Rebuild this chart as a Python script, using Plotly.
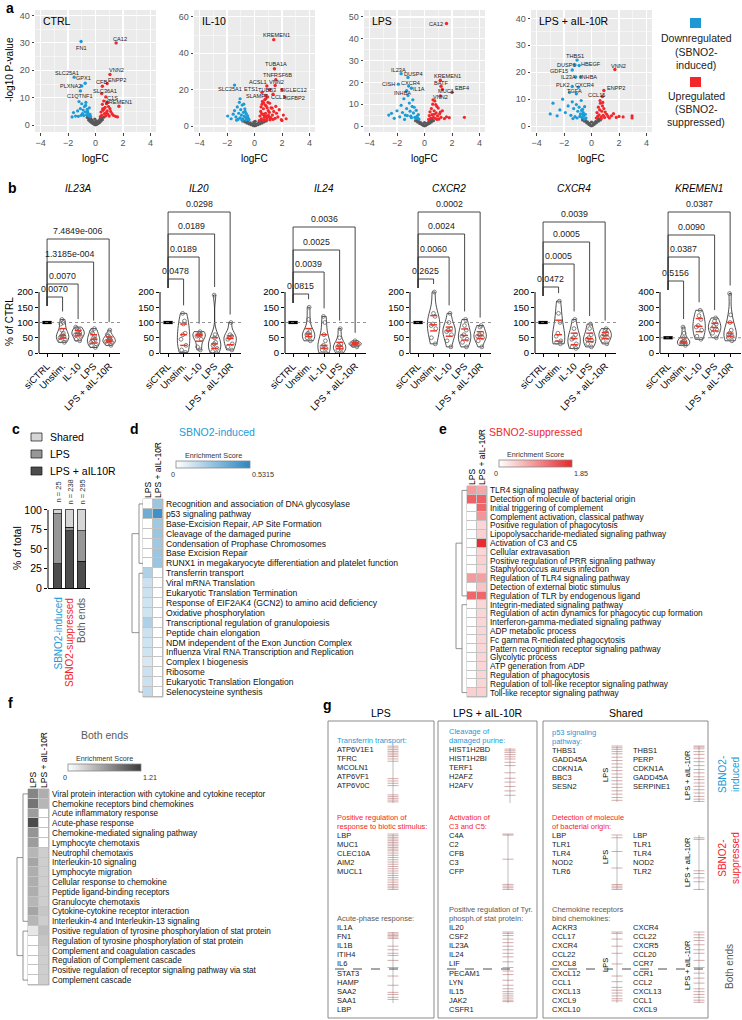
import plotly.graph_objects as go
import numpy as np

W, H = 742, 1020
FONT = "Liberation Sans, Arial, sans-serif"
BLUE = "#1b9bd7"
RED = "#f2262b"
GREY_T = "#5a5a5a"

# ======================= DATA =======================
# ---- panel a : volcano plots (logFC, -log10 P) ----
volcano_titles = ["CTRL", "IL-10", "LPS", "LPS + aIL-10R"]

ctrl_ns_x = [0.0, -0.1, 0.1, -0.2, 0.2, -0.3, 0.3, -0.4, 0.4, -0.5, 0.5, 0.0, -0.15, 0.15, -0.25, 0.25, 0.05, -0.05, 0.35, -0.35, 0.45, -0.45, 0.6, -0.6]
ctrl_ns_y = [0.1, 0.3, 0.3, 0.6, 0.6, 1.0, 1.0, 1.4, 1.5, 1.9, 2.0, 0.8, 1.2, 1.1, 1.8, 1.7, 1.6, 2.2, 2.4, 2.3, 2.6, 2.7, 2.9, 2.8]
ctrl_dn_x = [-1.7, -1.6, -1.45, -1.3, -1.2, -1.1, -1.0, -0.95, -0.9, -0.85, -0.8, -0.75, -0.7, -0.65, -0.6, -0.55, -0.5, -0.45, -0.4, -0.35, -1.05, -0.72, -0.58, -1.25]
ctrl_dn_y = [3.0, 4.6, 3.3, 5.2, 8.6, 6.0, 7.8, 4.2, 5.5, 3.5, 6.8, 4.8, 8.3, 3.8, 5.8, 4.4, 3.4, 6.3, 3.9, 3.1, 3.6, 7.2, 5.0, 3.2]
ctrl_up_x = [0.35, 0.4, 0.45, 0.5, 0.55, 0.6, 0.65, 0.7, 0.75, 0.8, 0.85, 0.9, 0.95, 1.0, 1.1, 1.2, 1.3, 1.45, 1.6, 0.62, 0.78, 0.52, 0.88, 1.05]
ctrl_up_y = [3.1, 4.8, 3.6, 7.6, 5.4, 8.8, 4.2, 6.5, 3.4, 7.8, 5.2, 4.0, 6.8, 3.3, 5.0, 4.2, 3.6, 3.2, 3.0, 6.0, 4.6, 5.9, 8.3, 6.0]
ctrl_genes = ["CA12", "FN1", "SLC25A1", "GPX1", "PLXNA2", "C1QTNF1", "VNN2", "ENPP2", "CFB", "SLC36A1", "C1S", "KREMEN1"]
ctrl_gene_x = [1.5, -1.05, -1.55, -0.75, -1.0, -1.1, 1.05, 0.85, 0.5, 0.45, 0.75, 1.7]
ctrl_gene_y = [30.0, 30.5, 17.5, 15.3, 14.3, 12.5, 18.5, 15.2, 14.2, 11.5, 10.3, 6.9]
ctrl_gene_dir = ["up", "down", "down", "down", "down", "down", "up", "up", "up", "up", "up", "up"]

il10_ns_x = [0, -0.1, 0.1, -0.25, 0.25, -0.4, 0.4, -0.55, 0.55, -0.7, 0.7, -0.85, 0.85, -0.15, 0.15, -0.3, 0.3, -0.5, 0.5, 0.0, -0.65, 0.65, -0.05, 0.05]
il10_ns_y = [0.1, 0.3, 0.3, 0.7, 0.7, 1.2, 1.2, 1.7, 1.7, 2.3, 2.3, 2.8, 2.8, 1.0, 1.1, 1.8, 1.9, 2.6, 2.7, 1.5, 2.9, 3.0, 2.2, 2.6]
il10_dn_x = [-1.95, -1.7, -1.55, -1.45, -1.35, -1.25, -1.15, -1.1, -1.05, -1.0, -0.95, -0.9, -0.85, -0.8, -0.75, -0.7, -0.65, -0.6, -0.55, -0.5, -0.45, -0.4, -1.2, -1.05, -0.92, -0.78, -0.68, -1.3, -0.88, -0.62]
il10_dn_y = [5.5, 4.0, 6.5, 8.5, 5.0, 10.5, 7.0, 13.0, 4.5, 9.0, 6.0, 11.5, 4.0, 7.5, 5.5, 9.5, 4.8, 6.8, 3.8, 5.6, 4.2, 3.5, 3.6, 15.0, 3.4, 12.0, 8.0, 3.2, 3.0, 3.3]
il10_up_x = [0.35, 0.4, 0.45, 0.5, 0.55, 0.6, 0.65, 0.7, 0.75, 0.8, 0.85, 0.9, 0.95, 1.0, 1.05, 1.1, 1.15, 1.2, 1.3, 1.4, 1.5, 1.6, 1.7, 1.8, 1.95, 2.1, 2.3, 0.48, 0.58, 0.68, 0.78, 0.88, 0.98, 1.08, 1.18, 1.28, 0.62, 0.72, 0.82, 0.92, 1.02, 1.12, 0.52, 0.66, 0.84, 1.35, 1.55, 2.0]
il10_up_y = [3.0, 5.5, 8.0, 4.0, 12.0, 6.5, 9.5, 3.5, 14.5, 7.0, 11.0, 4.5, 16.0, 8.5, 5.0, 12.5, 3.8, 10.0, 6.0, 8.0, 4.2, 7.0, 5.0, 9.0, 3.5, 6.0, 4.0, 10.5, 13.5, 6.0, 11.5, 3.2, 13.0, 7.5, 4.6, 9.8, 3.0, 4.8, 15.0, 10.0, 5.8, 3.4, 6.8, 12.8, 5.6, 3.6, 10.8, 3.0]
il10_genes = ["KREMEN1", "TUBA1A", "TNFRSF6B", "VNN2", "SIGLEC12", "IGFBP2", "CCL1", "TUBB3", "ACSL1", "ETS1", "SLAMF7", "SLC25A1"]
il10_gene_x = [1.4, 1.45, 1.55, 1.5, 2.0, 2.2, 1.35, 1.1, 0.9, 0.55, 0.8, -1.45]
il10_gene_y = [47.5, 31.5, 25.5, 22.3, 20.0, 16.0, 17.5, 20.0, 22.0, 18.5, 16.8, 22.5]
il10_gene_dir = ["up"] * 11 + ["down"]

lps_ns_x = [0, -0.1, 0.1, -0.2, 0.2, -0.35, 0.35, -0.5, 0.5, -0.65, 0.65, -0.15, 0.15, -0.3, 0.3, -0.45, 0.45, 0.0, -0.55, 0.55]
lps_ns_y = [0.1, 0.3, 0.3, 0.7, 0.7, 1.2, 1.2, 1.8, 1.8, 2.4, 2.4, 1.0, 1.1, 1.7, 1.8, 2.4, 2.5, 1.6, 2.8, 2.9]
lps_dn_x = [-2.6, -2.4, -2.2, -2.0, -1.8, -1.7, -1.6, -1.5, -1.4, -1.3, -1.2, -1.1, -1.0, -0.9, -0.8, -0.7, -0.6, -0.5, -0.45, -0.4, -1.45, -1.05, -0.85, -0.65, -1.25, -0.95, -0.75, -0.55]
lps_dn_y = [5.0, 5.8, 3.5, 7.0, 4.2, 9.5, 6.2, 12.5, 5.0, 8.0, 14.0, 10.5, 4.5, 9.0, 6.0, 4.0, 7.2, 3.6, 5.2, 3.2, 3.0, 6.8, 12.0, 3.4, 4.8, 3.8, 8.6, 4.4]
lps_up_x = [0.3, 0.35, 0.4, 0.45, 0.5, 0.55, 0.6, 0.65, 0.7, 0.75, 0.8, 0.85, 0.9, 0.95, 1.0, 1.05, 1.1, 1.2, 1.3, 1.45, 1.6, 1.8, 2.9, 0.62, 0.72, 0.82, 0.92, 1.15]
lps_up_y = [3.0, 4.8, 6.5, 3.6, 8.0, 5.2, 10.0, 4.0, 7.0, 11.5, 3.4, 6.0, 9.0, 4.6, 8.2, 3.2, 5.6, 4.0, 7.0, 3.4, 4.2, 3.8, 4.0, 12.0, 5.4, 9.8, 3.0, 6.4]
lps_genes = ["CA12", "IL23A", "DUSP4", "CISH", "CXCR4", "INHBA", "IL1A", "KREMEN1", "BATF", "MUC1", "EBF4", "VNN2"]
lps_gene_x = [1.6, -1.7, -1.2, -1.9, -1.15, -1.3, -0.95, 1.15, 1.2, 1.3, 2.0, 1.15]
lps_gene_y = [47.0, 24.0, 22.3, 19.2, 18.3, 16.2, 17.3, 21.0, 18.2, 16.8, 15.5, 13.8]
lps_gene_dir = ["up", "down", "down", "down", "down", "down", "down", "up", "up", "up", "up", "up"]

lpsa_ns_x = [0, -0.1, 0.1, -0.2, 0.2, -0.35, 0.35, -0.5, 0.5, -0.65, 0.65, -0.15, 0.15, -0.3, 0.3, -0.45, 0.45, 0.0, -0.55, 0.55]
lpsa_ns_y = [0.1, 0.3, 0.3, 0.7, 0.7, 1.2, 1.2, 1.8, 1.8, 2.3, 2.3, 1.0, 1.1, 1.6, 1.7, 2.2, 2.3, 1.5, 2.6, 2.7]
lpsa_dn_x = [-3.0, -2.8, -2.5, -2.3, -2.1, -1.9, -1.7, -1.6, -1.5, -1.4, -1.3, -1.2, -1.1, -1.0, -0.9, -0.8, -0.75, -0.7, -0.65, -0.6, -0.55, -0.5, -0.45, -0.4, -1.35, -1.05, -0.85, -0.72, -0.62, -0.52]
lpsa_dn_y = [4.5, 8.5, 3.8, 6.0, 10.0, 5.0, 7.5, 12.5, 4.0, 9.0, 6.5, 3.5, 8.0, 5.5, 7.0, 4.5, 9.5, 3.2, 6.2, 5.0, 3.8, 7.2, 4.4, 3.0, 2.8, 3.0, 3.6, 5.8, 4.2, 2.6]
lpsa_up_x = [0.35, 0.4, 0.45, 0.5, 0.55, 0.6, 0.65, 0.7, 0.75, 0.8, 0.85, 0.9, 0.95, 1.0, 1.1, 1.2, 1.3, 1.45, 1.6, 1.8, 2.0, 2.3, 2.95, 2.95, 0.62, 0.72, 0.82]
lpsa_up_y = [3.0, 5.0, 3.6, 7.0, 4.2, 6.0, 8.5, 3.4, 5.5, 7.5, 4.0, 6.5, 3.2, 5.2, 4.4, 3.6, 3.0, 3.8, 4.6, 3.2, 3.6, 3.4, 3.8, 3.0, 9.5, 2.8, 8.8]
lpsa_genes = ["THBS1", "DUSP6", "HBEGF", "GDF15", "IL23A", "INHBA", "PLK2", "CXCR4", "TGFA", "VNN2", "ENPP2", "CCL15"]
lpsa_gene_x = [-1.05, -1.2, -0.9, -1.4, -1.15, -0.8, -1.4, -0.95, -1.1, 1.7, 0.9, 0.8]
lpsa_gene_y = [24.5, 22.7, 22.5, 20.8, 18.2, 18.2, 14.7, 14.4, 12.0, 21.0, 13.2, 11.0]
lpsa_gene_dir = ["down"] * 9 + ["up", "up", "up"]

# ---- panel b : % of CTRL per donor ----
b_genes = ["IL23A", "IL20", "IL24", "CXCR2", "CXCR4", "KREMEN1"]
b_groups = ["siCTRL", "Unstim.", "IL-10", "LPS", "LPS + aIL-10R"]
b_siCTRL = [100, 100, 100, 100, 100, 100, 100, 100, 100, 100, 100, 100]
il23a_vals = [[35, 40, 45, 50, 55, 55, 60, 65, 75, 95, 100, 110],
              [40, 45, 55, 60, 62, 65, 70, 75, 80, 85],
              [18, 25, 30, 35, 40, 45, 50, 55, 65, 70, 80],
              [25, 30, 35, 38, 40, 42, 45, 50, 55, 60, 75]]
il20_vals = [[2, 10, 25, 45, 60, 65, 95, 105, 130],
             [10, 20, 45, 55, 58, 60, 65, 70],
             [0, 5, 15, 25, 30, 35, 50, 60, 190],
             [10, 20, 30, 45, 50, 55, 60, 100]]
il24_vals = [[40, 50, 55, 60, 65, 70, 110, 150],
             [0, 10, 15, 20, 25, 40, 60, 100, 120],
             [0, 10, 15, 20, 25, 30, 50, 80],
             [20, 25, 28, 30, 32, 35, 40]]
cxcr2_vals = [[30, 50, 80, 90, 95, 120, 130, 200],
              [20, 40, 60, 70, 75, 80, 100, 130],
              [20, 35, 45, 55, 60, 75, 90, 110],
              [20, 40, 50, 55, 60, 65, 85, 90]]
cxcr4_vals = [[30, 35, 40, 55, 65, 100, 130, 170],
              [15, 20, 30, 45, 50, 60, 80, 110],
              [20, 30, 40, 45, 50, 60, 80, 95],
              [30, 40, 50, 55, 60, 65, 75, 80]]
kremen1_vals = [[50, 60, 65, 70, 75, 80, 100, 130, 170],
                [90, 110, 150, 170, 180, 220, 245, 280],
                [100, 130, 150, 160, 175, 190, 210, 230],
                [80, 100, 110, 120, 130, 150, 200, 250, 390]]
b_values = [il23a_vals, il20_vals, il24_vals, cxcr2_vals, cxcr4_vals, kremen1_vals]
b_ymax = [200, 200, 200, 200, 200, 400]
b_pvals = [["0.0070", "0.0070", "1.3185e-004", "7.4849e-006"],
           ["0.0478", "0.0189", "0.0189", "0.0298"],
           ["0.0815", "0.0039", "0.0025", "0.0036"],
           ["0.2625", "0.0060", "0.0024", "0.0002"],
           ["0.0472", "0.0005", "0.0005", "0.0039"],
           ["0.5156", "0.0387", "0.0090", "0.0387"]]

# ---- panel c : stacked % of total ----
c_categories = ["SBNO2-induced", "SBNO2-suppressed", "Both ends"]
c_n = ["n = 25", "n = 238", "n = 295"]
c_lpsa = [31, 73, 34]
c_lps = [64, 5, 39]
c_shared = [5, 22, 27]

# ---- panels d, e, f : enrichment heatmaps ----
d_terms = ["Recognition and association of DNA glycosylase", "p53 signaling pathway",
           "Base-Excision Repair, AP Site Formation", "Cleavage of the damaged purine",
           "Condensation of Prophase Chromosomes", "Base Excision Repair",
           "RUNX1 in megakaryocyte differentiation and platelet function", "Transferrin transport",
           "Viral mRNA Translation", "Eukaryotic Translation Termination",
           "Response of EIF2AK4 (GCN2) to amino acid deficiency", "Oxidative phosphorylation",
           "Transcriptional regulation of granulopoiesis", "Peptide chain elongation",
           "NDM independent of the Exon Junction Complex", "Influenza Viral RNA Transcription and Replication",
           "Complex I biogenesis", "Ribosome", "Eukaryotic Translation Elongation", "Selenocysteine synthesis"]
d_lps = [0, 0.36, 0, 0, 0, 0, 0, 0.2, 0.13, 0.13, 0.12, 0.12, 0.2, 0.13, 0.12, 0.12, 0.1, 0.13, 0.13, 0.16]
d_ail = [0.25, 0.48, 0.24, 0.25, 0.24, 0.25, 0.25, 0, 0, 0, 0, 0, 0, 0, 0, 0, 0, 0, 0, 0]
d_max = 0.5315

e_terms = ["TLR4 signaling pathway", "Detection of molecule of bacterial origin", "Initial triggering of complement",
           "Complement activation, classical pathway", "Positive regulation of phagocytosis",
           "Lipopolysaccharide-mediated signaling pathway", "Activation of C3 and C5", "Cellular extravasation",
           "Positive regulation of PRR signaling pathway", "Staphylococcus aureus infection",
           "Regulation of TLR4 signaling pathway", "Detection of external biotic stimulus",
           "Regulation of TLR by endogenous ligand", "Integrin-mediated signaling pathway",
           "Regulation of actin dynamics for phagocytic cup formation", "Interferon-gamma-mediated signaling pathway",
           "ADP metabolic process", "Fc gamma R-mediated phagocytosis", "Pattern recognition receptor signaling pathway",
           "Glycolytic process", "ATP generation from ADP", "Regulation of phagocytosis",
           "Regulation of toll-like receptor signaling pathway", "Toll-like receptor signaling pathway"]
e_lps = [0.85, 1.35, 0, 0, 0, 0, 0, 0, 0, 0, 0.85, 0, 1.3, 0, 0, 0, 0, 0, 0, 0, 0, 0, 0, 0.4]
e_ail = [0.75, 1.35, 1.3, 0.9, 0.35, 0.4, 1.8, 0.35, 0.4, 0.35, 0.8, 0.5, 1.3, 0.35, 0.35, 0.35, 0.35, 0.35, 0.35, 0.35, 0.35, 0.35, 0.35, 0.4]
e_max = 1.85

f_terms = ["Viral protein interaction with cytokine and cytokine receptor", "Chemokine receptors bind chemokines",
           "Acute inflammatory response", "Acute-phase response", "Chemokine-mediated signaling pathway",
           "Lymphocyte chemotaxis", "Neutrophil chemotaxis", "Interleukin-10 signaling", "Lymphocyte migration",
           "Cellular response to chemokine", "Peptide ligand-binding receptors", "Granulocyte chemotaxis",
           "Cytokine-cytokine receptor interaction", "Interleukin-4 and Interleukin-13 signaling",
           "Positive regulation of tyrosine phosphorylation of stat protein",
           "Regulation of tyrosine phosphorylation of stat protein", "Complement and coagulation cascades",
           "Regulation of Complement cascade", "Positive regulation of receptor signaling pathway via stat",
           "Complement cascade"]
f_lps = [0.75, 0.85, 0.6, 1.1, 0.65, 0.6, 0.45, 0.55, 0.5, 0.5, 0.5, 0.45, 0.55, 0.45, 0.15, 0, 0, 0, 0, 0]
f_ail = [0.5, 0.45, 0, 0, 0, 0, 0.3, 0.3, 0.3, 0.3, 0.3, 0.3, 0.35, 0.3, 0.4, 0.35, 0.3, 0.3, 0.3, 0.3]
f_max = 1.21
heat_cols = ["LPS", "LPS + aIL-10R"]

# ---- panel g : leading-edge genes and barcode ranks ----
g_lps_ind_head = ["Transferrin transport:"]
g_lps_ind_genes = ["ATP6V1E1", "TFRC", "MCOLN1", "ATP6VF1", "ATP6V0C"]
g_lps_sup_head = ["Positive regulation of", "response to biotic stimulus:"]
g_lps_sup_genes = ["LBP", "MUC1", "CLEC10A", "AIM2", "MUCL1"]
g_lps_both_head = ["Acute-phase response:"]
g_lps_both_genes = ["IL1A", "FN1", "IL1B", "ITIH4", "IL6", "STAT3", "HAMP", "SAA2", "SAA1", "LBP"]
g_ail_ind_head = ["Cleavage of", "damaged purine:"]
g_ail_ind_genes = ["HIST1H2BD", "HIST1H2BI", "TERF1", "H2AFZ", "H2AFV"]
g_ail_sup_head = ["Activation of", "C3 and C5:"]
g_ail_sup_genes = ["C4A", "C2", "CFB", "C3", "CFP"]
g_ail_both_head = ["Positive regulation of Tyr.", "phosph.of stat protein:"]
g_ail_both_genes = ["IL20", "CSF2", "IL23A", "IL24", "LIF", "PECAM1", "LYN", "IL15", "JAK2", "CSFR1"]
g_sh_ind_head = ["p53 signaling", "pathway:"]
g_sh_ind_genes_l = ["THBS1", "GADD45A", "CDKN1A", "BBC3", "SESN2"]
g_sh_ind_genes_r = ["THBS1", "PERP", "CDKN1A", "GADD45A", "SERPINE1"]
g_sh_sup_head = ["Detection of molecule", "of bacterial origin:"]
g_sh_sup_genes_l = ["LBP", "TLR1", "TLR4", "NOD2", "TLR6"]
g_sh_sup_genes_r = ["LBP", "TLR1", "TLR4", "NOD2", "TLR2"]
g_sh_both_head = ["Chemokine receptors", "bind chemokines:"]
g_sh_both_genes_l = ["ACKR3", "CCL17", "CXCR4", "CCL22", "CXCL8", "CXCL12", "CCL1", "CXCL13", "CXCL9", "CXCL10"]
g_sh_both_genes_r = ["CXCR4", "CCL22", "CXCR5", "CCL20", "CCR7", "CCR1", "CCL2", "CXCL13", "CCL1", "CXCL9"]

bc_lps_transferrin = [0.02, 0.05, 0.08, 0.11, 0.14, 0.17, 0.2, 0.24, 0.28, 0.58, 0.62, 0.66, 0.7, 0.86, 0.89, 0.92, 0.95, 0.98]
bc_lps_biotic = [0.0, 0.03, 0.06, 0.09, 0.12, 0.15, 0.18, 0.21, 0.24, 0.27, 0.3, 0.34, 0.38, 0.42, 0.46, 0.5, 0.54, 0.58, 0.62, 0.66, 0.7, 0.74, 0.78, 0.82, 0.86, 0.9, 0.93, 0.96, 0.99]
bc_lps_acute = [0.01, 0.03, 0.05, 0.07, 0.09, 0.2, 0.25, 0.3, 0.33, 0.4, 0.5, 0.62, 0.75, 0.85, 0.88, 0.92, 0.95]
bc_ail_purine = [0.02, 0.05, 0.08, 0.12, 0.16, 0.2, 0.26, 0.32, 0.45, 0.55, 0.62, 0.7, 0.78, 0.86]
bc_ail_c3 = [0.0, 0.02, 0.45, 0.9, 0.93, 0.96, 0.99]
bc_ail_stat = [0.0, 0.02, 0.05, 0.1, 0.15, 0.2, 0.25, 0.3, 0.35, 0.42, 0.5, 0.55, 0.6, 0.68, 0.75, 0.8, 0.84, 0.87, 0.9, 0.93, 0.96, 0.98]
bc_sh_p53_lps = [0.0, 0.03, 0.06, 0.1, 0.14, 0.2, 0.26, 0.32, 0.38, 0.44, 0.5, 0.56, 0.62, 0.68, 0.74, 0.8, 0.86, 0.92, 0.97]
bc_sh_p53_ail = [0.0, 0.02, 0.05, 0.1, 0.15, 0.22, 0.28, 0.35, 0.42, 0.48, 0.55, 0.6, 0.66, 0.72, 0.78, 0.84, 0.9, 0.95, 0.99]
bc_sh_bact_lps = [0.0, 0.05, 0.3, 0.6, 0.9, 0.93, 0.96, 0.99]
bc_sh_bact_ail = [0.05, 0.08, 0.65, 0.7, 0.78, 0.85, 0.99]
bc_sh_chem_lps = [0.0, 0.02, 0.1, 0.2, 0.3, 0.45, 0.62, 0.7, 0.78, 0.82, 0.86, 0.9, 0.94, 0.97]
bc_sh_chem_ail = [0.0, 0.04, 0.08, 0.12, 0.18, 0.25, 0.3, 0.4, 0.5, 0.58, 0.65, 0.72, 0.8, 0.84, 0.88, 0.92, 0.96, 0.99]

# ======================= BUILD =======================
fig = go.Figure()
layout = {}
shapes = []
ann = []
count = [0]


def add_axes(x0, x1, y0, y1, xopt, yopt):
    count[0] += 1
    n = count[0]
    sx = "" if n == 1 else str(n)
    xr, yr = "x" + sx, "y" + sx
    xo = dict(domain=[x0 / W, x1 / W], anchor=yr)
    xo.update(xopt)
    yo = dict(domain=[1 - y1 / H, 1 - y0 / H], anchor=xr)
    yo.update(yopt)
    layout["xaxis" + sx] = xo
    layout["yaxis" + sx] = yo
    return xr, yr


# overlay axis in pixel coordinates (for text/decorations)
OX, OY = add_axes(0, W, 0, H, dict(range=[0, W], visible=False, fixedrange=True),
                  dict(range=[H, 0], visible=False, fixedrange=True))


def txt(x, y, s, size=8, color="black", xa="center", ya="middle", angle=0):
    ann.append(dict(x=x, y=y, xref=OX, yref=OY, text=s, showarrow=False, xanchor=xa, yanchor=ya,
                    textangle=angle, font=dict(family=FONT, size=size, color=color)))


def oline(x0, y0, x1, y1, color="#777", width=0.8, dash="solid"):
    shapes.append(dict(type="line", xref=OX, yref=OY, x0=x0, y0=y0, x1=x1, y1=y1,
                       line=dict(color=color, width=width, dash=dash)))


# panel letters
for s, x, y in [("a", 4, 8), ("b", 6, 188), ("c", 10, 429), ("d", 128, 429), ("e", 437, 429), ("f", 6, 703), ("g", 321, 705)]:
    txt(x, y, "<b>" + s + "</b>", size=14, xa="left")

# ---------------- panel a ----------------
volc = [
    (ctrl_ns_x, ctrl_ns_y, ctrl_dn_x, ctrl_dn_y, ctrl_up_x, ctrl_up_y, ctrl_genes, ctrl_gene_x, ctrl_gene_y, ctrl_gene_dir),
    (il10_ns_x, il10_ns_y, il10_dn_x, il10_dn_y, il10_up_x, il10_up_y, il10_genes, il10_gene_x, il10_gene_y, il10_gene_dir),
    (lps_ns_x, lps_ns_y, lps_dn_x, lps_dn_y, lps_up_x, lps_up_y, lps_genes, lps_gene_x, lps_gene_y, lps_gene_dir),
    (lpsa_ns_x, lpsa_ns_y, lpsa_dn_x, lpsa_dn_y, lpsa_up_x, lpsa_up_y, lpsa_genes, lpsa_gene_x, lpsa_gene_y, lpsa_gene_dir),
]
volc_left = [35, 194, 364, 531]
volc_yrange = [[-2.5, 42], [-3.3, 63.8], [-2.75, 53.2], [-2.2, 43.1]]
volc_ydtick = [10, 20, 10, 10]
# label offsets in px (xshift, yshift) — ggrepel-like placement
volc_label_shift = [
    [(4, 4), (0, -6), (-7, 4), (-2, 5), (-11, 0), (0, -5), (7, 4), (10, 3), (-1, 4), (3, 3), (7, -1), (0, 4)],
    [(3, 5), (2, 5), (2, 5), (1, 3), (11, 0), (10, -1), (5, -3), (-3, 0), (-9, 4), (-11, 3), (-9, -1), (-5, -4)],
    [(-11, 0), (-3, 4), (5, 3), (-10, 0), (2, 3), (-4, -2), (8, -1), (7, 4), (0, 3), (4, -2), (10, 4), (0, -1)],
    [(-2, 4), (-9, 0), (12, 1), (-13, -1), (-7, 0), (8, 0), (-9, 1), (6, 2), (-2, 3), (4, 4), (12, 3), (-6, 1)],
]
for i in range(4):
    nsx, nsy, dnx, dny, upx, upy, gn, gx, gy, gd = volc[i]
    left = volc_left[i]
    dt = volc_ydtick[i]
    xr, yr = add_axes(left, left + 121, 10, 132,
                      dict(type="linear", range=[-4.4, 4.4], tickvals=[-4, -2, 0, 2, 4], ticks="outside", ticklen=2.5,
                           tickcolor="#444", tickfont=dict(size=9, color="#555"), showgrid=True, gridcolor="white",
                           gridwidth=1.1, minor=dict(dtick=1, tick0=0, showgrid=True, gridcolor="white", gridwidth=0.5),
                           zeroline=False, showline=False, fixedrange=True),
                      dict(type="linear", range=volc_yrange[i], dtick=dt, tick0=0, ticks="outside", ticklen=2.5,
                           tickcolor="#444", tickfont=dict(size=9, color="#555"), showgrid=True, gridcolor="white",
                           gridwidth=1.1, minor=dict(dtick=dt / 2, tick0=0, showgrid=True, gridcolor="white", gridwidth=0.5),
                           zeroline=False, showline=False, fixedrange=True))
    shapes.append(dict(type="rect", xref=xr + " domain", yref=yr + " domain", x0=0, x1=1, y0=0, y1=1,
                       fillcolor="#ebebeb", line=dict(width=0), layer="below"))
    for xs, ys, col in [(nsx, nsy, "#595959"), (dnx, dny, BLUE), (upx, upy, RED)]:
        fig.add_trace(go.Scatter(x=xs, y=ys, mode="markers", marker=dict(color=col, size=3.2, line=dict(width=0)),
                                 xaxis=xr, yaxis=yr, showlegend=False, hoverinfo="skip"))
    fig.add_trace(go.Scatter(x=gx, y=gy, mode="markers",
                             marker=dict(color=[RED if d == "up" else BLUE for d in gd], size=3.4),
                             xaxis=xr, yaxis=yr, showlegend=False, hoverinfo="skip"))
    for k, name in enumerate(gn):
        sx, sy = volc_label_shift[i][k]
        ann.append(dict(x=gx[k], y=gy[k], xref=xr, yref=yr, text=name, showarrow=False, xshift=sx, yshift=sy,
                        font=dict(family=FONT, size=5.6, color="#222")))
    txt(left + 6, 21, volcano_titles[i], size=10.5, xa="left")
    txt(left + 60.5, 158, "logFC", size=10)
txt(9, 70, "-log10 P-value", size=10, angle=-90)
# legend a
shapes.append(dict(type="rect", xref=OX, yref=OY, x0=690, x1=701, y0=18, y1=28, fillcolor="#1e98d4", line=dict(width=0)))
shapes.append(dict(type="rect", xref=OX, yref=OY, x0=690, x1=701, y0=77, y1=87, fillcolor="#f2262b", line=dict(width=0)))
for s, y in [("Downregulated", 38), ("(SBNO2-", 52), ("induced)", 65), ("Upregulated", 96), ("(SBNO2-", 109), ("suppressed)", 122)]:
    txt(696, y, s, size=10.5, color="#222")

# ---------------- panel b ----------------
b_axis_x = [39, 160, 285, 410, 535, 660]
b_bracket_py = [[297, 284, 262, 239], [279, 257, 234, 212], [294, 272, 250, 227],
                [279, 257, 234, 212], [287, 264, 242, 222], [281, 257, 235, 212]]
for gi, gene in enumerate(b_genes):
    ax0 = b_axis_x[gi]
    ymax = b_ymax[gi]
    unit = ymax / 61.0
    rng_top = 148 * unit
    yt = [0, 50, 100, 150, 200] if ymax == 200 else [0, 100, 200, 300, 400]
    xr, yr = add_axes(ax0, ax0 + 81, 205, 353,
                      dict(type="linear", range=[-0.52, 4.7], tickvals=[0, 1, 2, 3, 4], ticktext=b_groups, tickangle=-45,
                           ticks="outside", ticklen=3, tickcolor="black", showline=True, linecolor="black", linewidth=1,
                           showgrid=False, zeroline=False, tickfont=dict(size=9.5, color="black"), fixedrange=True),
                      dict(type="linear", range=[0, rng_top], tickvals=yt, ticks="outside", ticklen=3, tickcolor="black",
                           showline=False, showgrid=False, zeroline=False, tickfont=dict(size=9.5, color="black"),
                           fixedrange=True))
    shapes.append(dict(type="line", xref=xr + " domain", yref=yr, x0=0, x1=0, y0=0, y1=ymax,
                       line=dict(color="black", width=1)))
    shapes.append(dict(type="line", xref=xr + " domain", yref=yr, x0=0, x1=1, y0=100, y1=100,
                       line=dict(color="#777", width=0.8, dash="dot")))
    # siCTRL
    fig.add_trace(go.Scatter(x=[-0.3, 0.3], y=[b_siCTRL[0], b_siCTRL[-1]], mode="lines",
                             line=dict(color="black", width=3.2), xaxis=xr, yaxis=yr, showlegend=False, hoverinfo="skip"))
    vals = b_values[gi]
    for k in range(4):
        v = vals[k]
        fig.add_trace(go.Violin(x=[k + 1] * len(v), y=v, xaxis=xr, yaxis=yr, width=0.8, points="all", pointpos=0,
                                jitter=0.55, spanmode="hard", fillcolor="rgba(255,255,255,0)",
                                line=dict(color="#222", width=0.8),
                                marker=dict(symbol="circle-open", size=3.8, color="#666", line=dict(width=0.8)),
                                showlegend=False, hoverinfo="skip", box_visible=False, meanline_visible=False))
        q1, med, q3 = np.percentile(v, [25, 50, 75])
        xs, ys = [], []
        for q in (q1, med, q3):
            xs += [k + 1 - 0.22, k + 1 + 0.22, None]
            ys += [q, q, None]
        fig.add_trace(go.Scatter(x=xs, y=ys, mode="lines", line=dict(color="#ee3322", width=1.4),
                                 xaxis=xr, yaxis=yr, showlegend=False, hoverinfo="skip", connectgaps=False))
    levels = [(353 - p) * unit for p in b_bracket_py[gi]]
    left_bot = levels[0] - 9 * unit
    for k in range(4):
        g = k + 1
        top = levels[k]
        rb = min(max(vals[k]) + 8 * unit, top - 4 * unit)
        fig.add_trace(go.Scatter(x=[0, 0, g, g], y=[left_bot, top, top, rb], mode="lines",
                                 line=dict(color="#333", width=0.9), xaxis=xr, yaxis=yr, showlegend=False,
                                 hoverinfo="skip"))
        ann.append(dict(x=g / 2, y=top, xref=xr, yref=yr, text=b_pvals[gi][k], showarrow=False, yanchor="bottom",
                        yshift=1, font=dict(family=FONT, size=8.8, color="#222")))
    txt(ax0 + 39, 188, "<i>" + gene + "</i>", size=10)
txt(9, 322, "% of CTRL", size=10, angle=-90)

# ---------------- panel c ----------------
xr, yr = add_axes(48, 90, 506, 588,
                  dict(type="linear", range=[-0.79, 2.71], showticklabels=False, ticks="", showline=True,
                       linecolor="black", linewidth=1, showgrid=False, zeroline=False, fixedrange=True),
                  dict(type="linear", range=[0, 105], tickvals=[0, 25, 50, 75, 100], ticks="outside", ticklen=3,
                       tickcolor="black", showline=False, showgrid=False, zeroline=False,
                       tickfont=dict(size=10.5, color="black"), fixedrange=True))
shapes.append(dict(type="line", xref=xr + " domain", yref=yr, x0=0, x1=0, y0=0, y1=100, line=dict(color="black", width=1)))
for vals_, col in [(c_lpsa, "#4d4d4d"), (c_lps, "#979797"), (c_shared, "#d6d6d6")]:
    fig.add_trace(go.Bar(x=[0, 1, 2], y=vals_, width=0.7, marker=dict(color=col, line=dict(color="#111", width=0.7)),
                         xaxis=xr, yaxis=yr, showlegend=False, hoverinfo="skip"))
for k, (lab, col) in enumerate(zip(c_categories, [BLUE, RED, GREY_T])):
    px_ = 57.5 + 12 * k
    txt(px_, 596, lab, size=10, color=col, ya="top", angle=-90)
    txt(px_, 492, c_n[k], size=7.5, color="#333", angle=-90)
txt(17, 548, "% of total", size=10.5, angle=-90)
for lab, col, y in [("Shared", "#d6d6d6", 437), ("LPS", "#979797", 454), ("LPS + aIL10R", "#4d4d4d", 471)]:
    shapes.append(dict(type="rect", xref=OX, yref=OY, x0=31, x1=42, y0=y - 4, y1=y + 4, fillcolor=col,
                       line=dict(color="#111", width=0.7)))
    txt(48, y, lab, size=10.5, xa="left")


# ---------------- panels d, e, f ----------------
def heat_panel(x0, x1, y0, y1, terms, lps, ail, zmax, cscale, cb_x, cb_y, cb_len, fsize, title, tcol, tx, ty,
               maxlab, dendro):
    n = len(terms)
    xr, yr = add_axes(x0, x1, y0, y1,
                      dict(type="linear", range=[-0.5, 1.5], side="top", tickvals=[0, 1], ticktext=heat_cols,
                           tickangle=-90, ticks="", showline=False, showgrid=False, zeroline=False,
                           tickfont=dict(size=8.5, color="black"), fixedrange=True),
                      dict(type="linear", range=[n - 0.5, -0.5], side="right", tickvals=list(range(n)), ticktext=terms,
                           ticks="", showline=False, showgrid=False, zeroline=False, ticklabelstandoff=2,
                           tickfont=dict(size=fsize, color="#111"), fixedrange=True))
    shapes.append(dict(type="rect", xref=xr + " domain", yref=yr + " domain", x0=0, x1=1, y0=0, y1=1,
                       fillcolor="#c4c4c4", line=dict(color="#aaa", width=0.8), layer="below"))
    fig.add_trace(go.Heatmap(z=[[a, b] for a, b in zip(lps, ail)], x=[0, 1], y=list(range(n)), zmin=0, zmax=zmax,
                             colorscale=cscale, xgap=1, ygap=1, xaxis=xr, yaxis=yr, hoverinfo="skip",
                             colorbar=dict(orientation="h", x=cb_x / W, xanchor="left", y=1 - cb_y / H, yanchor="top",
                                           len=cb_len, lenmode="pixels", thickness=7, thicknessmode="pixels",
                                           outlinewidth=0.8, outlinecolor="#888", showticklabels=False, ticks="",
                                           xpad=0, ypad=0)))
    txt(tx, ty, title, size=10.5, color=tcol)
    txt(cb_x + cb_len / 2, cb_y - 6, "Enrichment Score", size=7.2, color="#333")
    txt(cb_x - 3, cb_y + 13, "0", size=7.2, color="#333")
    txt(cb_x + cb_len, cb_y + 13, maxlab, size=7.2, color="#333", xa="left")
    # dendrogram
    rh = (y1 - y0) / n
    rc = lambda r: y0 + (r + 0.5) * rh
    root_x, clus_x, clusters = dendro
    mids = []
    for (a, b) in clusters:
        oline(clus_x, rc(a), clus_x, rc(b))
        oline(clus_x, rc(a), x0, rc(a))
        oline(clus_x, rc(b), x0, rc(b))
        mids.append((rc(a) + rc(b)) / 2)
    oline(root_x, mids[0], root_x, mids[-1])
    for m in mids:
        oline(root_x, m, clus_x, m)


heat_panel(143, 163, 499, 697, d_terms, d_lps, d_ail, d_max, [[0, "#ffffff"], [1, "#2a86c0"]],
           176, 461, 74, 8.6, "SBNO2-induced", BLUE, 217, 432, "0.5315", (132, 139, [(0, 6), (7, 19)]))
heat_panel(467, 487, 486, 697, e_terms, e_lps, e_ail, e_max, [[0, "#ffffff"], [1, "#e8262a"]],
           499, 460, 73, 8.3, "SBNO2-suppressed", RED, 536, 432, "1.85", (456, 462, [(0, 12), (13, 23)]))
heat_panel(28, 49, 789, 985, f_terms, f_lps, f_ail, f_max, [[0, "#ffffff"], [1, "#3a3a3a"]],
           68, 764, 73, 8.2, "Both ends", GREY_T, 104, 735, "1.21", (17, 23, [(0, 13), (14, 19)]))

# ---------------- panel g ----------------
for (bx0, bx1, title) in [(328, 434, "LPS"), (438, 537, "LPS + aIL-10R"), (543, 708, "Shared")]:
    shapes.append(dict(type="rect", xref=OX, yref=OY, x0=bx0, x1=bx1, y0=721, y1=1018,
                       line=dict(color="#8a8a8a", width=1), fillcolor="rgba(0,0,0,0)"))
    txt((bx0 + bx1) / 2, 713, title, size=10.5)

GSTEP = 9.2
GSIZE = 7.5


def gene_block(x, head, head_y, col, genes, gene_y0):
    for j, h in enumerate(head):
        txt(x, head_y[j], h, size=GSIZE, color=col, xa="left")
    for j, gname in enumerate(genes):
        txt(x, gene_y0 + j * GSTEP, gname, size=GSIZE, color="#222", xa="left")


gene_block(335, g_lps_ind_head, [740], BLUE, g_lps_ind_genes, 749)
gene_block(335, g_lps_sup_head, [817, 826], RED, g_lps_sup_genes, 835)
gene_block(335, g_lps_both_head, [918], GREY_T, g_lps_both_genes, 927)
gene_block(447, g_ail_ind_head, [731, 740], BLUE, g_ail_ind_genes, 749)
gene_block(447, g_ail_sup_head, [817, 826], RED, g_ail_sup_genes, 835)
gene_block(447, g_ail_both_head, [909, 918], GREY_T, g_ail_both_genes, 927)
gene_block(550, g_sh_ind_head, [732, 741], BLUE, g_sh_ind_genes_l, 750)
gene_block(631, [], [], BLUE, g_sh_ind_genes_r, 750)
gene_block(550, g_sh_sup_head, [817, 826], RED, g_sh_sup_genes_l, 835)
gene_block(631, [], [], RED, g_sh_sup_genes_r, 835)
gene_block(550, g_sh_both_head, [909, 918], GREY_T, g_sh_both_genes_l, 927)
gene_block(631, [], [], GREY_T, g_sh_both_genes_r, 927)

for (x0, x1) in [(335, 400), (447, 512), (550, 710)]:
    oline(x0, 969, x1, 969, color="#222", width=0.8, dash="dash")

for y in [775, 857, 965]:
    txt(605, y, "LPS", size=GSIZE, angle=-90)
for y in [775, 862, 965]:
    txt(687, y, "LPS + aIL-10R", size=GSIZE, angle=-90)
txt(729, 775, "SBNO2-<br>induced", size=10, color=BLUE, angle=-90)
txt(729, 858, "SBNO2-<br>suppressed", size=10, color=RED, angle=-90)
txt(729, 967, "Both ends", size=10, color=GREY_T, angle=-90)

barcodes = [
    (393, 745, 803, bc_lps_transferrin), (393, 834, 890, bc_lps_biotic), (393, 932, 1003, bc_lps_acute),
    (510, 748, 803, bc_ail_purine), (508, 834, 890, bc_ail_c3), (508, 932, 1003, bc_ail_stat),
    (617, 746, 802, bc_sh_p53_lps), (617, 835, 890, bc_sh_bact_lps), (617, 932, 1003, bc_sh_chem_lps),
    (699, 746, 802, bc_sh_p53_ail), (699, 835, 890, bc_sh_bact_ail), (699, 932, 1003, bc_sh_chem_ail),
]
tx_, ty_, vx_, vy_ = [], [], [], []
for cx, top, bot, ranks in barcodes:
    vx_ += [cx, cx, None]
    vy_ += [top, bot, None]
    for r in ranks:
        yy = top + r * (bot - top)
        tx_ += [cx - 5.5, cx + 5.5, None]
        ty_ += [yy, yy, None]
fig.add_trace(go.Scatter(x=vx_, y=vy_, mode="lines", line=dict(color="#a0a0a0", width=0.7), xaxis=OX, yaxis=OY,
                         showlegend=False, hoverinfo="skip"))
fig.add_trace(go.Scatter(x=tx_, y=ty_, mode="lines", line=dict(color="rgba(175,100,100,0.6)", width=0.9), xaxis=OX,
                         yaxis=OY, showlegend=False, hoverinfo="skip"))

fig.update_layout(**layout)
fig.update_layout(shapes=shapes, annotations=ann, width=W, height=H,
                  margin=dict(l=0, r=0, t=0, b=0, autoexpand=False), template="none",
                  paper_bgcolor="white", plot_bgcolor="rgba(0,0,0,0)",
                  font=dict(family=FONT, color="black"), showlegend=False,
                  violinmode="overlay", barmode="stack")
fig.write_html("out.html", config={"displayModeBar": False, "staticPlot": True},
               post_script="document.body.style.margin='0';document.body.style.padding='0';document.body.style.overflow='hidden';")
